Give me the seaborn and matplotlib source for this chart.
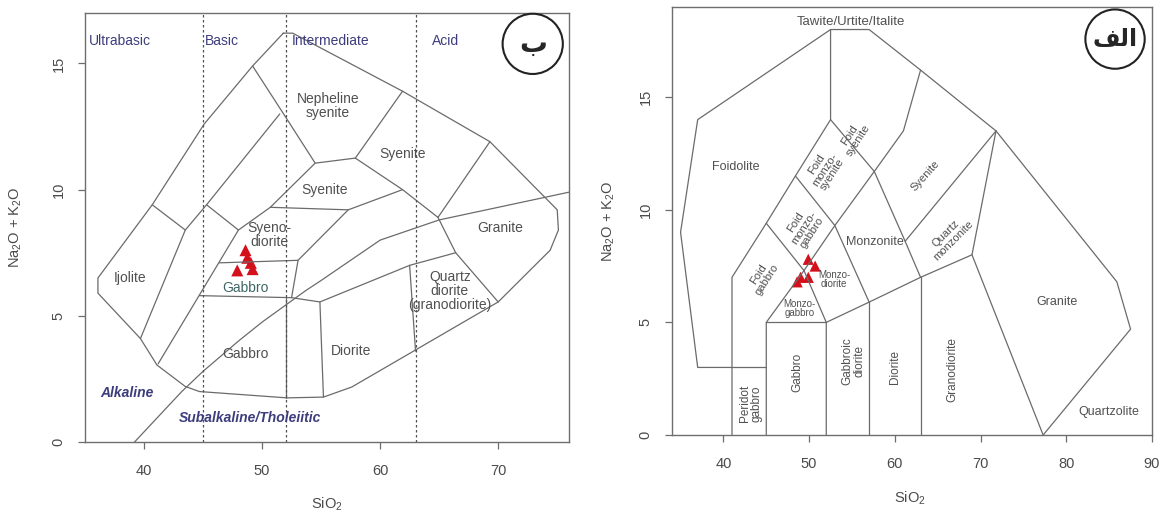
import numpy as np
import pandas as pd
import seaborn as sns
import matplotlib.pyplot as plt

sns.set_style('white')
plt.rcParams['font.family'] = ['Liberation Sans', 'DejaVu Sans']
plt.rcParams['mathtext.default'] = 'regular'

line_col = '#6b6b6b'
text_col = '#505050'
class_col = '#3d3d7d'

## ---- Left panel: Cox et al. (1979) plutonic TAS (ب)
cox_outer = [(51.8, 16.2), (49.2, 14.9), (45.1, 12.6), (40.7, 9.4), (36.1, 6.5), (36.1, 5.9),
             (39.7, 4.1), (41.1, 3.05), (43.5, 2.2), (44.7, 2.0), (52.1, 1.75), (55.2, 1.78),
             (57.6, 2.18), (70.0, 5.55), (74.4, 7.6), (75.1, 8.4), (75.0, 9.2), (69.3, 11.9),
             (61.9, 13.9), (52.6, 16.2), (51.8, 16.2)]
cox_nesy = [(49.2, 14.9), (52.1, 12.8), (54.5, 11.05), (57.9, 11.25), (61.9, 13.9)]
cox_l2 = [(51.5, 13.0), (45.3, 9.4), (43.5, 8.4)]
cox_ijolite = [(40.7, 9.4), (43.5, 8.4), (39.7, 4.1)]
cox_diag = [(45.3, 9.4), (48.0, 8.4), (41.2, 3.1)]
cox_sd_top = [(48.0, 8.4), (50.7, 9.3), (57.3, 9.2), (61.9, 10.0)]
cox_sy_left = [(54.5, 11.05), (50.7, 9.3)]
cox_sy_bottom = [(57.9, 11.25), (61.9, 10.0), (64.9, 8.9)]
cox_sy_right = [(69.3, 11.9), (64.9, 8.9)]
cox_gr_left = [(64.9, 8.9), (66.4, 7.5), (70.0, 5.55)]
cox_gb_mid = [(46.4, 7.1), (53.05, 7.2), (52.5, 5.72)]
cox_sd_right = [(53.05, 7.2), (57.3, 9.2)]
cox_gb_low = [(44.7, 5.8), (52.5, 5.72), (54.9, 5.55), (62.5, 7.0), (63.0, 3.6)]
cox_qd_top = [(62.5, 7.0), (66.4, 7.5)]
cox_di_left = [(54.9, 5.55), (55.2, 1.78)]
cox_gb_split = [(52.0, 5.7), (52.0, 1.75)]
cox_lines = [cox_outer, cox_nesy, cox_l2, cox_ijolite, cox_diag, cox_sd_top, cox_sy_left,
             cox_sy_bottom, cox_sy_right, cox_gr_left, cox_gb_mid, cox_sd_right, cox_gb_low,
             cox_qd_top, cox_di_left, cox_gb_split]

# Irvine & Baragar alkaline / subalkaline divide
ib_si = [39.2, 40, 43.2, 45, 48, 50, 53.7, 55, 60, 65, 76]
ib_alk = [0, 0.4, 2.0, 2.8, 4.0, 4.75, 6.0, 6.4, 8.0, 8.8, 9.9]

silica_bounds = [45, 52, 63]
silica_names = ['Ultrabasic', 'Basic', 'Intermediate', 'Acid']
silica_name_x = [38.0, 46.6, 55.8, 65.5]

cox_names = ['Nepheline\nsyenite', 'Syenite', 'Syenite', 'Syeno-\ndiorite', 'Granite', 'Ijolite',
             'Gabbro', 'Quartz\ndiorite\n(granodiorite)', 'Diorite', 'Gabbro']
cox_name_x = [55.6, 61.9, 55.3, 50.6, 70.2, 38.8, 48.6, 65.9, 57.5, 48.6]
cox_name_y = [13.3, 11.4, 10.0, 8.2, 8.5, 6.5, 6.1, 6.0, 3.6, 3.5]
cox_name_col = [text_col] * 6 + ['#3f6666'] + [text_col] * 3

cox_si = [48.6, 48.75, 49.05, 47.9, 49.2]
cox_alk = [7.6, 7.3, 7.1, 6.8, 6.85]

## ---- Right panel: Middlemost (1994) plutonic TAS (الف)
mid_outer = [(41, 3), (37, 3), (35, 9), (37, 14), (52.5, 18), (57, 18), (63, 16.2), (71.8, 13.5),
             (85.9, 6.8), (87.5, 4.7), (77.3, 0)]
mid_l1 = [(41, 0), (41, 7), (45, 9.4), (48.4, 11.5), (52.5, 14), (52.5, 18)]
mid_l2 = [(45, 0), (45, 5), (49.4, 7.3), (53, 9.3), (57.6, 11.7), (61, 13.5), (63, 16.2)]
mid_l3 = [(52, 0), (52, 5), (57, 5.9), (63, 7), (69, 8), (71.8, 13.5)]
mid_l4 = [(57, 0), (57, 5.9)]
mid_l5 = [(63, 0), (63, 7)]
mid_l6 = [(69, 8), (77.3, 0)]
mid_l7 = [(41, 3), (45, 3)]
mid_l8 = [(45, 5), (52, 5)]
mid_l9 = [(49.4, 7.3), (52, 5)]
mid_l10 = [(45, 9.4), (49.4, 7.3)]
mid_l11 = [(48.4, 11.5), (53, 9.3), (57, 5.9)]
mid_l12 = [(52.5, 14), (57.6, 11.7), (61.2, 8.6), (63, 7)]
mid_l13 = [(61.2, 8.6), (71.8, 13.5)]
mid_lines = [mid_outer, mid_l1, mid_l2, mid_l3, mid_l4, mid_l5, mid_l6, mid_l7, mid_l8, mid_l9,
             mid_l10, mid_l11, mid_l12, mid_l13]

mid_names = ['Tawite/Urtite/Italite', 'Foidolite', 'Granite', 'Quartzolite', 'Monzonite']
mid_name_x = [54.9, 41.4, 78.9, 85.0, 57.7]
mid_name_y = [18.35, 11.9, 5.9, 1.0, 8.55]
mid_rot_names = ['Foid\nsyenite', 'Foid\nmonzo-\nsyenite', 'Foid\nmonzo-\ngabbro', 'Foid\ngabbro',
                 'Syenite', 'Quartz\nmonzonite']
mid_rot_x = [55.2, 51.8, 49.4, 44.6, 63.5, 66.4]
mid_rot_y = [13.2, 11.8, 9.2, 7.0, 11.5, 8.8]
mid_rot_angle = [57, 57, 57, 57, 48, 45]
mid_vert_names = ['Peridot\ngabbro', 'Gabbro', 'Gabbroic\ndiorite', 'Diorite', 'Granodiorite']
mid_vert_x = [43.2, 48.6, 55.2, 60.0, 66.7]
mid_vert_y = [1.4, 2.8, 3.3, 3.0, 2.9]
mid_small_names = ['Monzo-\ngabbro', 'Monzo-\ndiorite']
mid_small_x = [48.9, 52.9]
mid_small_y = [5.6, 6.9]

mid_si = [49.9, 50.7, 49.0, 49.9, 48.6]
mid_alk = [7.8, 7.5, 7.0, 7.0, 6.8]

fig = plt.figure(figsize=(11.62, 5.15), dpi=100)
ax1 = fig.add_axes([0.0731, 0.1417, 0.4166, 0.8331])
ax2 = fig.add_axes([0.5783, 0.1553, 0.4131, 0.8311])


def draw_lines(ax, lines):
    for pts in lines:
        seg = pd.DataFrame(pts, columns=['si', 'alk'])
        ax.plot(seg['si'], seg['alk'], color=line_col, lw=0.9, solid_joinstyle='round')


def style_axes(ax, xlim, ylim, xticks, yticks):
    ax.set_xlim(*xlim)
    ax.set_ylim(*ylim)
    ax.set_xticks(xticks)
    ax.set_yticks(yticks)
    for s in ax.spines.values():
        s.set_color('#6e6e6e')
        s.set_linewidth(1.0)
    ax.tick_params(direction='out', length=5, width=0.9, color='#6e6e6e', labelcolor='#4a4a4a',
                   labelsize=10.5, pad=10.5, bottom=True, left=True)
    ax.tick_params(axis='y', pad=9)
    plt.setp(ax.get_yticklabels(), rotation=90, va='center')
    ax.set_xlabel('SiO$_2$', fontsize=10.5, color='#4a4a4a')
    ax.set_ylabel('Na$_2$O + K$_2$O', fontsize=10.5, color='#4a4a4a')


## left panel
draw_lines(ax1, cox_lines)
ax1.plot(ib_si, ib_alk, color=line_col, lw=0.9)
for b in silica_bounds:
    ax1.axvline(b, color='#505050', lw=0.9, ls=(0, (2, 2)))
for name, x in zip(silica_names, silica_name_x):
    ax1.text(x, 15.9, name, color=class_col, fontsize=10, ha='center', va='center')
for name, x, y, c in zip(cox_names, cox_name_x, cox_name_y, cox_name_col):
    ax1.text(x, y, name, color=c, fontsize=10, ha='center', va='center', linespacing=1.0)
ax1.text(38.6, 1.95, 'Alkaline', color=class_col, fontsize=10, fontweight='bold', style='italic',
         ha='center', va='center')
ax1.text(49.0, 0.95, 'Subalkaline/Tholeiitic', color=class_col, fontsize=10, fontweight='bold',
         style='italic', ha='center', va='center')
sns.scatterplot(x=cox_si, y=cox_alk, marker='^', s=75, color='#d4101c', edgecolor='none', ax=ax1)
ax1.text(0.925, 0.928, '\u0628', transform=ax1.transAxes, fontsize=20, fontweight='bold',
         ha='center', va='center', family=['DejaVu Sans'],
         bbox=dict(boxstyle='circle,pad=0.58', fc='white', ec='#222222', lw=1.5))
style_axes(ax1, (35, 76), (0, 17), [40, 50, 60, 70], [0, 5, 10, 15])
ax1.xaxis.set_label_coords(0.5, -0.126)
ax1.yaxis.set_label_coords(-0.125, 0.5)

## right panel
draw_lines(ax2, mid_lines)
ax2.text(mid_name_x[0], mid_name_y[0], mid_names[0], color=text_col, fontsize=9.5, ha='center', va='center')
for name, x, y in zip(mid_names[1:], mid_name_x[1:], mid_name_y[1:]):
    ax2.text(x, y, name, color=text_col, fontsize=9, ha='center', va='center')
for name, x, y, r in zip(mid_rot_names, mid_rot_x, mid_rot_y, mid_rot_angle):
    ax2.text(x, y, name, color=text_col, fontsize=8, ha='center', va='center', rotation=r,
             linespacing=0.95, rotation_mode='anchor')
for name, x, y in zip(mid_vert_names, mid_vert_x, mid_vert_y):
    ax2.text(x, y, name, color=text_col, fontsize=8.5, ha='center', va='center', rotation=90,
             linespacing=1.0)
for name, x, y in zip(mid_small_names, mid_small_x, mid_small_y):
    ax2.text(x, y, name, color=text_col, fontsize=7, ha='center', va='center', linespacing=0.9)
sns.scatterplot(x=mid_si, y=mid_alk, marker='^', s=65, color='#d4101c', edgecolor='none', ax=ax2)
ax2.text(0.923, 0.925, '\uFED2\uFEDF\uFE8D', transform=ax2.transAxes, fontsize=17, fontweight='bold',
         ha='center', va='center', family=['DejaVu Sans'],
         bbox=dict(boxstyle='circle,pad=0.3', fc='white', ec='#222222', lw=1.5))
style_axes(ax2, (34, 90), (0, 19), [40, 50, 60, 70, 80, 90], [0, 5, 10, 15])
ax2.xaxis.set_label_coords(0.495, -0.128)
ax2.yaxis.set_label_coords(-0.115, 0.5)

fig.savefig('out.png', dpi=100)
